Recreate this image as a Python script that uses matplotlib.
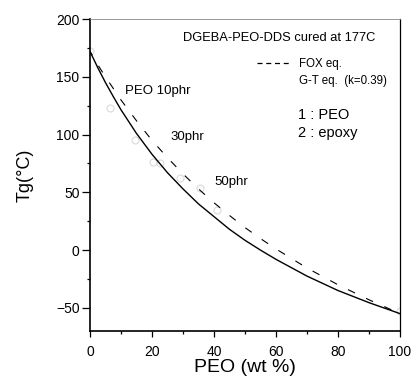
import matplotlib
matplotlib.use("Agg")
import matplotlib.pyplot as plt
from matplotlib.lines import Line2D
from matplotlib.ticker import MultipleLocator

plt.rcParams['font.family'] = ['Liberation Sans', 'DejaVu Sans']

# PEO content (wt %) and Tg readings
peo = [0, 2.5, 5, 7.5, 10, 15, 20, 25, 30, 35, 40, 45, 50, 55, 60, 70, 80, 90, 100]
tg_fox = [172, 160.5, 150, 140, 130, 112, 95, 80, 66, 53, 41, 30, 19.5, 10, 1, -15.5, -30, -43, -55]
tg_gt = [172, 158, 145, 133, 121.5, 101, 83, 67, 53, 40, 29, 18, 8.5, 0, -8, -22.5, -35, -45.5, -55]

# faint measured points
pts_x = [0, 6.5, 14.5, 20.4, 22.6, 29, 35.5, 41, 100]
pts_y = [172, 123, 95, 76, 75, 62, 54, 35, -53]

fig = plt.figure(figsize=(4.11, 3.83), dpi=100)
ax = fig.add_axes([0.219, 0.136, 0.754, 0.814])

ax.plot(pts_x, pts_y, 'o', mfc='none', mec='#dadada', ms=5, mew=0.8)
ax.plot(peo, tg_gt, color='black', lw=1.0)
ax.plot(peo, tg_fox, color='black', lw=0.8, ls=(3, (7, 11)))

ax.set_xlim(0, 100)
ax.set_ylim(-70, 200)
ax.xaxis.set_major_locator(MultipleLocator(20))
ax.xaxis.set_minor_locator(MultipleLocator(10))
ax.yaxis.set_major_locator(MultipleLocator(50))
ax.yaxis.set_minor_locator(MultipleLocator(25))
ax.tick_params(axis='both', which='both', direction='out', labelsize=10, width=0.9)
ax.tick_params(axis='y', which='major', length=5.5, pad=2)
ax.tick_params(axis='x', which='major', length=4, pad=6)
ax.tick_params(axis='both', which='minor', length=2.5)

ax.spines['left'].set_linewidth(1.2)
ax.spines['bottom'].set_linewidth(1.2)
ax.spines['right'].set_linewidth(0.9)
ax.spines['top'].set_linewidth(0.6)
ax.spines['top'].set_color('#888888')

ax.set_xlabel('PEO (wt %)', fontsize=14, labelpad=0)
ax.set_ylabel('Tg(\u00b0C)', fontsize=13, labelpad=16)

ax.text(30, 184, 'DGEBA-PEO-DDS cured at 177C', fontsize=9.3, va='center')
ax.text(11.3, 138, 'PEO 10phr', fontsize=9.5, va='center')
ax.text(25.8, 98, '30phr', fontsize=9.5, va='center')
ax.text(40.3, 59, '50phr', fontsize=9.5, va='center')
ax.text(67, 117, '1 : PEO', fontsize=10.5, va='center')
ax.text(67, 101, '2 : epoxy', fontsize=10.5, va='center')

handles = [Line2D([], [], color='black', lw=0.9, ls=(0, (4, 3))),
           Line2D([], [], color='none')]
ax.legend(handles, ['FOX eq.', 'G-T eq.  (k=0.39)'], loc='upper left',
          bbox_to_anchor=(0.54, 0.875), frameon=False, fontsize=8.3,
          handlelength=3.0, handletextpad=0.6, labelspacing=0.45,
          borderpad=0, borderaxespad=0)

fig.savefig('out.png', dpi=100)
